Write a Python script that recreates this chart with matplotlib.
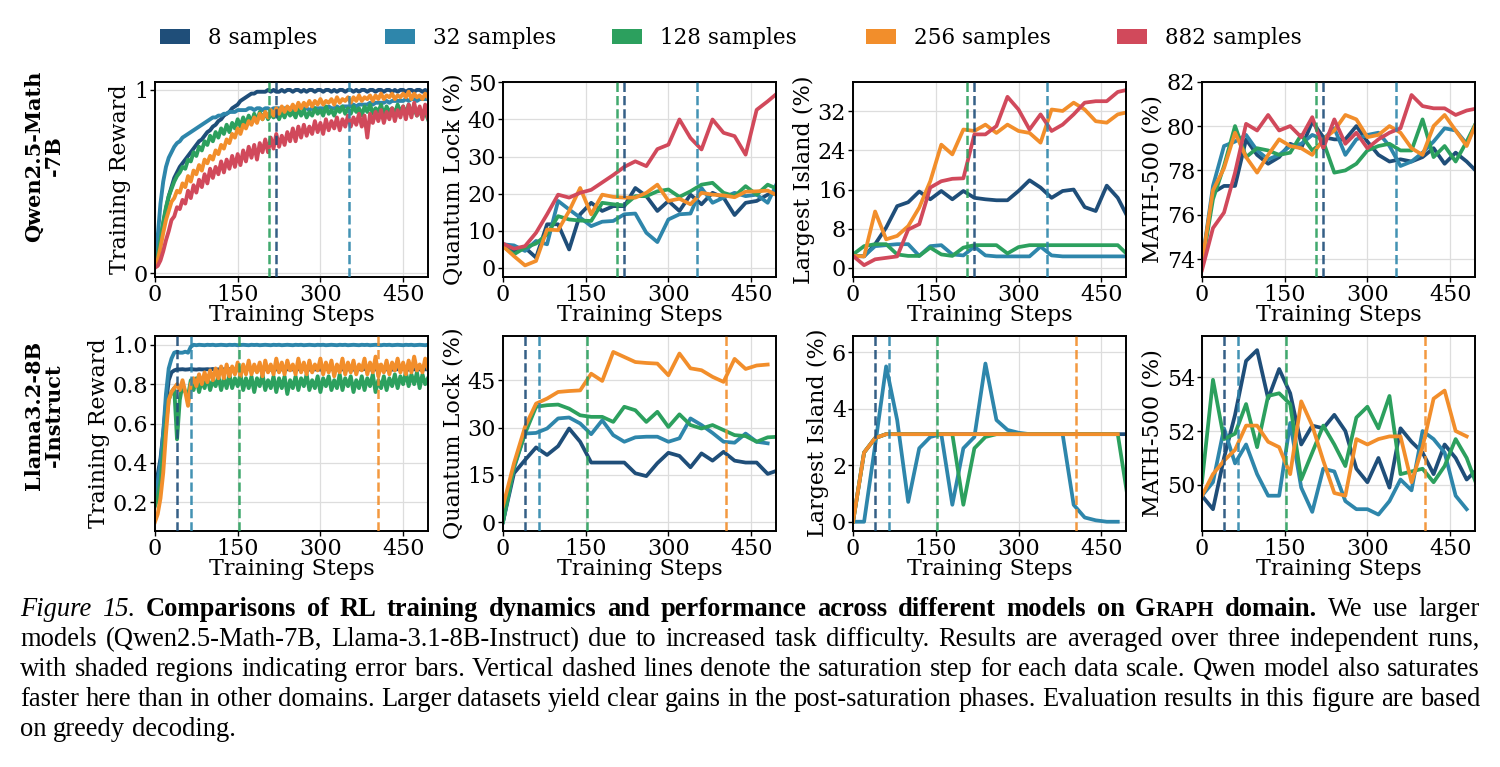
import matplotlib
matplotlib.use("Agg")
import matplotlib.pyplot as plt
from matplotlib.patches import Patch

# ---------------- data ----------------
labels = ["8 samples", "32 samples", "128 samples", "256 samples", "882 samples"]
colors = ["#1f4e79", "#2e86ab", "#2ca05e", "#f28e2b", "#d1495b"]

train_steps = list(range(0, 500, 5))
eval_steps = list(range(0, 501, 20))

# Qwen2.5-Math-7B training reward
q_tr_8 = [0.05, 0.10, 0.18, 0.27, 0.35, 0.42, 0.47, 0.52, 0.55, 0.58,
          0.60, 0.62, 0.64, 0.66, 0.68, 0.70, 0.72, 0.73, 0.75, 0.77,
          0.78, 0.80, 0.81, 0.83, 0.84, 0.86, 0.87, 0.88, 0.90, 0.91,
          0.92, 0.94, 0.95, 0.96, 0.97, 0.98, 0.98, 0.99, 0.99, 0.99,
          0.99, 1.00, 0.99, 1.00, 0.99, 0.99, 1.00, 0.99, 1.00, 1.00,
          0.99, 1.00, 1.00, 0.99, 1.00, 0.99, 1.00, 1.00, 0.99, 1.00,
          1.00, 0.99, 1.00, 1.00, 0.99, 1.00, 0.99, 1.00, 1.00, 0.99,
          1.00, 1.00, 0.99, 1.00, 0.99, 1.00, 1.00, 0.99, 1.00, 1.00,
          0.99, 1.00, 1.00, 0.99, 1.00, 1.00, 0.99, 1.00, 0.99, 1.00,
          1.00, 0.99, 1.00, 1.00, 0.99, 1.00, 1.00, 0.99, 1.00, 0.99]
q_tr_32 = [0.06, 0.20, 0.38, 0.50, 0.58, 0.63, 0.66, 0.69, 0.71, 0.72,
           0.74, 0.75, 0.76, 0.77, 0.78, 0.79, 0.80, 0.81, 0.82, 0.83,
           0.84, 0.85, 0.85, 0.86, 0.86, 0.87, 0.87, 0.88, 0.88, 0.88,
           0.89, 0.89, 0.89, 0.89, 0.90, 0.90, 0.89, 0.90, 0.90, 0.89,
           0.90, 0.90, 0.89, 0.90, 0.90, 0.90, 0.89, 0.90, 0.90, 0.90,
           0.90, 0.89, 0.90, 0.90, 0.90, 0.90, 0.89, 0.90, 0.90, 0.90,
           0.90, 0.90, 0.90, 0.91, 0.90, 0.90, 0.91, 0.90, 0.91, 0.91,
           0.91, 0.91, 0.92, 0.91, 0.92, 0.92, 0.92, 0.92, 0.93, 0.92,
           0.93, 0.93, 0.93, 0.93, 0.94, 0.93, 0.94, 0.94, 0.94, 0.94,
           0.94, 0.95, 0.94, 0.95, 0.95, 0.94, 0.95, 0.95, 0.95, 0.95]
q_tr_128 = [0.05, 0.09, 0.18, 0.28, 0.36, 0.42, 0.46, 0.50, 0.53, 0.55,
            0.58, 0.57, 0.62, 0.61, 0.66, 0.64, 0.69, 0.67, 0.72, 0.70,
            0.75, 0.72, 0.77, 0.74, 0.79, 0.76, 0.81, 0.77, 0.82, 0.79,
            0.84, 0.80, 0.85, 0.81, 0.86, 0.82, 0.87, 0.83, 0.88, 0.84,
            0.88, 0.84, 0.87, 0.85, 0.89, 0.84, 0.88, 0.85, 0.89, 0.86,
            0.88, 0.85, 0.90, 0.86, 0.89, 0.85, 0.88, 0.86, 0.90, 0.87,
            0.89, 0.86, 0.91, 0.87, 0.89, 0.86, 0.90, 0.88, 0.91, 0.87,
            0.90, 0.87, 0.91, 0.88, 0.90, 0.86, 0.91, 0.88, 0.92, 0.87,
            0.90, 0.88, 0.92, 0.86, 0.91, 0.88, 0.90, 0.87, 0.92, 0.88,
            0.91, 0.87, 0.92, 0.88, 0.90, 0.86, 0.89, 0.85, 0.88, 0.84]
q_tr_256 = [0.04, 0.07, 0.14, 0.22, 0.29, 0.34, 0.39, 0.41, 0.45, 0.44,
            0.49, 0.47, 0.53, 0.50, 0.56, 0.54, 0.59, 0.56, 0.62, 0.60,
            0.64, 0.62, 0.67, 0.65, 0.70, 0.68, 0.73, 0.71, 0.76, 0.74,
            0.79, 0.76, 0.81, 0.79, 0.83, 0.81, 0.85, 0.82, 0.87, 0.84,
            0.88, 0.85, 0.89, 0.86, 0.90, 0.87, 0.91, 0.88, 0.91, 0.89,
            0.92, 0.89, 0.93, 0.90, 0.93, 0.91, 0.94, 0.91, 0.94, 0.92,
            0.95, 0.92, 0.94, 0.93, 0.95, 0.92, 0.96, 0.93, 0.95, 0.94,
            0.96, 0.93, 0.96, 0.94, 0.97, 0.94, 0.96, 0.95, 0.97, 0.94,
            0.97, 0.95, 0.98, 0.95, 0.97, 0.96, 0.98, 0.95, 0.97, 0.96,
            0.98, 0.96, 0.99, 0.95, 0.98, 0.96, 0.97, 0.95, 0.98, 0.96]
q_tr_882 = [0.03, 0.04, 0.07, 0.12, 0.18, 0.23, 0.29, 0.31, 0.36, 0.35,
            0.40, 0.38, 0.45, 0.41, 0.48, 0.44, 0.51, 0.47, 0.54, 0.49,
            0.57, 0.52, 0.58, 0.54, 0.61, 0.55, 0.62, 0.57, 0.64, 0.58,
            0.65, 0.59, 0.67, 0.61, 0.69, 0.63, 0.70, 0.62, 0.71, 0.66,
            0.73, 0.66, 0.74, 0.68, 0.76, 0.69, 0.75, 0.70, 0.77, 0.72,
            0.79, 0.72, 0.80, 0.74, 0.81, 0.75, 0.80, 0.76, 0.83, 0.77,
            0.82, 0.76, 0.84, 0.78, 0.83, 0.79, 0.85, 0.78, 0.84, 0.80,
            0.86, 0.80, 0.85, 0.81, 0.87, 0.80, 0.86, 0.74, 0.87, 0.82,
            0.88, 0.83, 0.89, 0.82, 0.88, 0.84, 0.90, 0.83, 0.89, 0.85,
            0.91, 0.84, 0.92, 0.85, 0.93, 0.86, 0.91, 0.84, 0.92, 0.85]

# Qwen2.5-Math-7B evaluation
q_ql_8 = [5.8, 4.5, 5.4, 2.7, 11.7, 11.7, 4.9, 14.4, 17.5, 15.3, 16.6, 16.6, 21.5,
          19.3, 15.3, 18.0, 15.3, 19.7, 17.1, 20.2, 18.9, 14.2, 17.5, 18.0, 19.7, 20.2]
q_ql_32 = [6.3, 6.0, 4.5, 7.2, 6.3, 18.0, 15.7, 13.5, 11.2, 12.4, 12.6, 14.4, 14.6,
           9.4, 6.9, 13.0, 14.4, 14.6, 21.5, 17.5, 18.9, 20.2, 19.3, 19.7, 17.5, 23.8]
q_ql_128 = [5.8, 3.6, 5.4, 6.5, 9.0, 13.9, 13.0, 12.7, 12.6, 17.5, 17.1, 16.8, 19.3,
            19.3, 20.6, 21.1, 19.1, 20.6, 22.4, 22.9, 20.2, 19.3, 22.0, 19.7, 22.4, 21.1]
q_ql_256 = [5.8, 3.1, 0.6, 1.8, 10.3, 10.1, 15.3, 21.5, 14.4, 19.7, 19.1, 18.9, 18.9,
            20.2, 22.4, 18.0, 18.6, 17.1, 20.2, 19.7, 19.5, 19.0, 20.5, 20.6, 20.8, 19.3]
q_ql_882 = [6.5, 5.1, 5.8, 9.4, 14.4, 19.7, 18.9, 20.2, 21.0, 23.0, 25.0, 27.2, 28.7,
            27.4, 32.0, 33.2, 40.0, 35.0, 31.9, 40.0, 36.4, 35.5, 30.5, 42.6, 44.9, 47.4]

q_li_8 = [2.4, 2.3, 4.8, 8.2, 12.6, 13.4, 15.6, 14.0, 15.7, 14.0, 15.7, 14.3, 14.0,
          13.8, 13.8, 15.7, 17.9, 16.4, 14.3, 15.7, 16.0, 12.4, 11.6, 16.8, 14.3, 9.9]
q_li_32 = [2.4, 2.4, 4.4, 4.6, 4.8, 4.8, 2.4, 4.4, 4.6, 2.7, 2.5, 4.3, 2.5,
           2.3, 2.3, 2.3, 2.3, 4.3, 2.5, 2.3, 2.3, 2.3, 2.3, 2.3, 2.3, 2.3]
q_li_128 = [2.7, 4.4, 4.8, 4.8, 2.7, 2.4, 2.4, 4.1, 2.7, 2.4, 4.1, 4.6, 4.6,
            4.6, 2.9, 4.2, 4.6, 4.6, 4.6, 4.6, 4.6, 4.6, 4.6, 4.6, 4.6, 2.4]
q_li_256 = [2.4, 2.3, 11.5, 5.8, 6.5, 8.5, 12.3, 17.7, 25.2, 23.2, 28.3, 28.0, 29.3,
            27.6, 29.3, 28.0, 27.6, 25.6, 32.4, 32.1, 33.8, 32.4, 30.0, 29.7, 31.4, 31.9]
q_li_882 = [2.4, 0.5, 1.7, 2.0, 2.3, 7.8, 8.9, 16.4, 17.7, 18.2, 18.3, 27.3, 27.3,
            29.0, 35.0, 32.4, 28.3, 31.4, 28.0, 29.3, 31.4, 33.8, 34.1, 34.1, 36.0, 36.5]

q_m_8 = [73.8, 77.0, 77.3, 77.3, 79.4, 78.7, 78.3, 78.6, 79.2, 79.0, 80.2, 79.5, 79.4,
         79.4, 80.0, 79.3, 78.7, 78.4, 78.5, 78.4, 78.6, 79.0, 78.3, 78.8, 78.4, 77.9]
q_m_32 = [73.8, 77.3, 79.1, 79.3, 79.6, 78.9, 78.5, 78.7, 79.1, 79.2, 79.6, 79.4, 79.9,
          78.7, 79.4, 79.6, 79.7, 79.1, 78.2, 78.4, 78.8, 79.3, 79.9, 79.8, 79.2, 80.3]
q_m_128 = [73.7, 76.7, 78.2, 80.0, 78.6, 79.0, 78.9, 78.7, 78.8, 79.6, 78.9, 79.3, 77.9,
           78.0, 78.3, 78.9, 79.1, 79.2, 78.9, 78.9, 80.3, 78.6, 79.1, 78.4, 79.3, 80.3]
q_m_256 = [73.8, 77.1, 78.1, 79.7, 78.6, 77.9, 78.7, 79.4, 79.1, 79.0, 78.7, 79.4, 79.8,
           80.5, 80.3, 79.5, 79.6, 80.0, 79.7, 79.0, 78.7, 80.0, 80.5, 79.8, 79.1, 80.3]
q_m_882 = [73.5, 75.4, 76.1, 77.9, 80.1, 79.8, 80.5, 79.8, 80.0, 79.5, 80.4, 79.0, 80.3,
           79.2, 79.7, 79.0, 79.4, 79.7, 79.9, 81.4, 80.9, 80.8, 80.8, 80.5, 80.7, 80.8]

# Llama3.2-8B-Instruct training reward
l_tr_8 = [0.30, 0.34, 0.42, 0.55, 0.70, 0.82, 0.86, 0.870, 0.875, 0.875,
          0.876, 0.874, 0.875, 0.877, 0.875, 0.874, 0.876, 0.875, 0.875, 0.876,
          0.875, 0.877, 0.874, 0.875, 0.876, 0.875, 0.874, 0.876, 0.877, 0.875,
          0.874, 0.875, 0.876, 0.875, 0.877, 0.874, 0.875, 0.876, 0.875, 0.874,
          0.876, 0.875, 0.874, 0.877, 0.875, 0.876, 0.875, 0.874, 0.876, 0.875,
          0.875, 0.874, 0.876, 0.875, 0.877, 0.875, 0.874, 0.876, 0.875, 0.876,
          0.874, 0.875, 0.877, 0.875, 0.876, 0.874, 0.875, 0.876, 0.875, 0.877,
          0.875, 0.876, 0.874, 0.875, 0.876, 0.875, 0.877, 0.874, 0.875, 0.876,
          0.875, 0.874, 0.876, 0.877, 0.875, 0.876, 0.874, 0.875, 0.876, 0.875,
          0.877, 0.875, 0.874, 0.876, 0.875, 0.876, 0.875, 0.874, 0.876, 0.875]
l_tr_32 = [0.22, 0.30, 0.40, 0.55, 0.75, 0.88, 0.93, 0.96, 0.965, 0.96,
           0.96, 0.965, 0.96, 0.99, 1.00, 0.998, 1.00, 0.999, 0.998, 1.00,
           0.999, 1.00, 0.998, 0.999, 1.00, 0.999, 0.998, 1.00, 0.999, 1.00,
           0.998, 0.999, 1.00, 0.999, 0.998, 1.00, 0.999, 1.00, 0.998, 0.999,
           1.00, 0.999, 0.998, 1.00, 0.999, 1.00, 0.998, 0.999, 1.00, 0.999,
           0.998, 1.00, 0.999, 1.00, 0.998, 0.999, 1.00, 0.999, 0.998, 1.00,
           0.999, 1.00, 0.998, 0.999, 1.00, 0.999, 0.998, 1.00, 0.999, 1.00,
           0.998, 0.999, 1.00, 0.999, 0.998, 1.00, 0.999, 1.00, 0.998, 0.999,
           1.00, 0.999, 0.998, 1.00, 0.999, 1.00, 0.998, 0.999, 1.00, 0.999,
           0.998, 1.00, 0.999, 1.00, 0.998, 0.999, 1.00, 0.999, 0.998, 1.00]
l_tr_128 = [0.18, 0.22, 0.30, 0.45, 0.60, 0.72, 0.76, 0.78, 0.52, 0.72,
            0.80, 0.76, 0.74, 0.82, 0.77, 0.83, 0.76, 0.82, 0.78, 0.84,
            0.77, 0.82, 0.79, 0.84, 0.77, 0.83, 0.78, 0.85, 0.78, 0.83,
            0.79, 0.85, 0.77, 0.83, 0.78, 0.84, 0.76, 0.83, 0.79, 0.85,
            0.77, 0.82, 0.78, 0.84, 0.76, 0.83, 0.78, 0.84, 0.75, 0.82,
            0.78, 0.84, 0.77, 0.83, 0.79, 0.85, 0.77, 0.82, 0.78, 0.84,
            0.76, 0.83, 0.79, 0.84, 0.77, 0.82, 0.78, 0.85, 0.77, 0.83,
            0.79, 0.84, 0.76, 0.82, 0.78, 0.84, 0.77, 0.83, 0.79, 0.85,
            0.76, 0.82, 0.78, 0.84, 0.77, 0.83, 0.79, 0.85, 0.78, 0.84,
            0.80, 0.86, 0.79, 0.85, 0.80, 0.86, 0.78, 0.85, 0.80, 0.83]
l_tr_256 = [0.10, 0.14, 0.22, 0.35, 0.55, 0.72, 0.76, 0.78, 0.80, 0.77,
            0.82, 0.76, 0.69, 0.80, 0.83, 0.79, 0.85, 0.80, 0.86, 0.81,
            0.87, 0.82, 0.88, 0.83, 0.89, 0.83, 0.90, 0.84, 0.89, 0.85,
            0.91, 0.84, 0.90, 0.85, 0.92, 0.85, 0.90, 0.86, 0.91, 0.84,
            0.92, 0.86, 0.90, 0.85, 0.93, 0.86, 0.91, 0.85, 0.92, 0.87,
            0.90, 0.85, 0.93, 0.86, 0.91, 0.85, 0.92, 0.86, 0.90, 0.87,
            0.93, 0.85, 0.91, 0.86, 0.92, 0.84, 0.90, 0.86, 0.93, 0.85,
            0.91, 0.86, 0.92, 0.85, 0.90, 0.87, 0.93, 0.85, 0.91, 0.86,
            0.94, 0.84, 0.90, 0.86, 0.92, 0.85, 0.91, 0.87, 0.93, 0.86,
            0.91, 0.85, 0.92, 0.86, 0.94, 0.87, 0.90, 0.86, 0.93, 0.88]

# Llama3.2-8B-Instruct evaluation (some runs stop at step 480)
l_ql_8 = [0.0, 15.5, 19.7, 23.7, 21.3, 24.1, 29.7, 25.5, 18.9, 18.9, 18.9, 18.9, 15.5,
          14.6, 18.7, 22.0, 21.0, 17.4, 21.8, 19.5, 22.3, 19.5, 18.9, 18.9, 15.3, 16.5]
l_ql_32 = [0.0, 17.1, 28.1, 28.3, 29.7, 32.9, 33.2, 31.3, 27.9, 32.3, 27.6, 25.5, 26.9,
           27.1, 27.1, 25.5, 26.6, 32.9, 30.8, 28.3, 25.5, 25.2, 28.1, 25.5, 25.0]
l_ql_128 = [0.0, 17.6, 28.1, 36.6, 37.1, 37.3, 36.0, 33.9, 33.4, 33.4, 31.8, 36.6, 35.5,
            31.8, 35.0, 30.2, 34.2, 30.8, 29.7, 30.8, 29.2, 27.6, 27.3, 25.5, 26.9, 27.1]
l_ql_256 = [5.0, 18.7, 30.2, 37.6, 39.2, 41.3, 41.6, 41.8, 47.1, 44.8, 54.0, 52.4, 50.8,
            50.5, 50.3, 46.6, 53.5, 48.8, 48.2, 46.1, 44.5, 51.8, 48.6, 49.7, 50.0]

l_li_8 = [0.0, 2.45, 2.96, 3.1, 3.1, 3.1, 3.1, 3.1, 3.1, 3.1, 3.1, 3.1, 3.1,
          3.1, 3.1, 3.1, 3.1, 3.1, 3.1, 3.1, 3.1, 3.1, 3.1, 3.1, 3.1, 3.1]
l_li_32 = [0.0, 0.0, 2.7, 5.5, 3.6, 0.7, 2.6, 3.0, 3.1, 0.6, 2.6, 3.0, 5.6,
           3.6, 3.25, 3.15, 3.1, 3.1, 3.1, 3.1, 0.6, 0.15, 0.05, 0.0, 0.0]
l_li_128 = [0.0, 2.45, 2.96, 3.1, 3.1, 3.1, 3.1, 3.1, 3.1, 3.1, 0.6, 2.6, 3.0,
            3.1, 3.1, 3.1, 3.1, 3.1, 3.1, 3.1, 3.1, 3.1, 3.1, 3.1, 3.1, 0.6]
l_li_256 = [0.0, 2.45, 2.96, 3.1, 3.1, 3.1, 3.1, 3.1, 3.1, 3.1, 3.1, 3.1, 3.1,
            3.1, 3.1, 3.1, 3.1, 3.1, 3.1, 3.1, 3.1, 3.1, 3.1, 3.1, 3.1]

l_m_8 = [49.6, 49.1, 51.0, 52.6, 54.6, 55.0, 53.2, 54.3, 53.4, 51.5, 52.2, 52.1, 52.6,
         52.0, 50.6, 50.1, 51.0, 49.9, 52.1, 51.6, 51.2, 50.4, 51.5, 51.0, 50.2, 50.6]
l_m_32 = [49.6, 50.1, 52.1, 50.8, 51.5, 50.4, 49.6, 49.6, 52.3, 49.9, 49.0, 50.6, 50.5,
          49.4, 49.1, 49.1, 48.9, 49.4, 50.2, 49.8, 52.0, 51.7, 51.2, 49.6, 49.1]
l_m_128 = [50.1, 53.9, 51.7, 51.9, 53.0, 51.4, 53.3, 53.4, 53.0, 50.2, 51.2, 52.2, 51.5,
           50.7, 52.5, 52.9, 52.1, 53.3, 50.4, 50.5, 50.6, 50.1, 50.7, 51.7, 51.0, 49.9]
l_m_256 = [49.6, 50.4, 50.9, 51.3, 52.2, 52.2, 51.6, 51.4, 50.4, 53.1, 52.2, 50.9, 49.7,
           49.6, 51.7, 51.5, 51.7, 51.8, 51.8, 50.1, 51.4, 53.2, 53.5, 52.0, 51.8]

q_sat = [220, 352, 206, None, None]
l_sat = [40, 66, 152, 405, None]

caption = [
    [[("Figure", "it")], [("15.", "it")]]
    + [[(w, "bf")] for w in "Comparisons of RL training dynamics and performance across different models on".split()]
    + [[("G", "bf"), ("RAPH", "bfsc")], [("domain.", "bf")]]
    + [[(w, "rm")] for w in "We use larger".split()],
    [[(w, "rm")] for w in "models (Qwen2.5-Math-7B, Llama-3.1-8B-Instruct) due to increased task difficulty. Results are averaged over three independent runs,".split()],
    [[(w, "rm")] for w in "with shaded regions indicating error bars. Vertical dashed lines denote the saturation step for each data scale. Qwen model also saturates".split()],
    [[(w, "rm")] for w in "faster here than in other domains. Larger datasets yield clear gains in the post-saturation phases. Evaluation results in this figure are based".split()],
    [[(w, "rm")] for w in "on greedy decoding.".split()],
]

# ---------------- figure ----------------
plt.rcParams["font.family"] = "DejaVu Serif"
fig = plt.figure(figsize=(15, 7.67), dpi=100)

lefts = [0.1033, 0.3353, 0.5687, 0.8013]
bottoms = [0.639, 0.308]
w, h = 0.182, 0.2545
fs = 16

panels = [
    [(train_steps, [q_tr_8, q_tr_32, q_tr_128, q_tr_256, q_tr_882], "Training Reward", (-0.02, 1.045), [0, 1]),
     (eval_steps, [q_ql_8, q_ql_32, q_ql_128, q_ql_256, q_ql_882], "Quantum Lock (%)", (-2.5, 50.2), [0, 10, 20, 30, 40, 50]),
     (eval_steps, [q_li_8, q_li_32, q_li_128, q_li_256, q_li_882], "Largest Island (%)", (-1.9, 38.1), [0, 8, 16, 24, 32]),
     (eval_steps, [q_m_8, q_m_32, q_m_128, q_m_256, q_m_882], "MATH-500 (%)", (73.2, 82.0), [74, 76, 78, 80, 82])],
    [(train_steps, [l_tr_8, l_tr_32, l_tr_128, l_tr_256], "Training Reward", (0.055, 1.047), [0.2, 0.4, 0.6, 0.8, 1.0]),
     (eval_steps, [l_ql_8, l_ql_32, l_ql_128, l_ql_256], "Quantum Lock (%)", (-2.75, 59.2), [0, 15, 30, 45]),
     (eval_steps, [l_li_8, l_li_32, l_li_128, l_li_256], "Largest Island (%)", (-0.32, 6.59), [0, 2, 4, 6]),
     (eval_steps, [l_m_8, l_m_32, l_m_128, l_m_256], "MATH-500 (%)", (48.3, 55.54), [50, 52, 54])],
]
sats = [q_sat, l_sat]

for r in range(2):
    for c in range(4):
        xs, series, ylab, ylim, yticks = panels[r][c]
        ax = fig.add_axes([lefts[c], bottoms[r], w, h])
        lw = 2.8 if c == 0 else 2.7
        for i, ys in enumerate(series):
            ax.plot(xs[:len(ys)], ys, color=colors[i], lw=lw, zorder=2 + i * 0.1)
        for i, s in enumerate(sats[r]):
            if s is not None:
                ax.axvline(s, color=colors[i], ls="--", lw=1.8, alpha=0.9, zorder=5)
        ax.set_xlim(0, 495)
        ax.set_ylim(*ylim)
        ax.set_xticks([0, 150, 300, 450])
        ax.set_yticks(yticks)
        if r == 0 and c == 0:
            ax.set_yticklabels(["0", "1"])
        ax.grid(True, color="#dddddd", lw=0.9)
        ax.set_axisbelow(True)
        ax.tick_params(labelsize=fs, length=3.5, width=1, pad=1.5)
        ax.set_xlabel("Training Steps", fontsize=fs, labelpad=-1)
        ax.set_ylabel(ylab, fontsize=fs, labelpad=2)
        for sp in ax.spines.values():
            sp.set_linewidth(1.4)
            sp.set_color("black")

# row labels
fig.text(44 / 1500, 1 - 156 / 767, "Qwen2.5-Math\n-7B", rotation=90, ha="center", va="center",
         fontsize=15, fontweight="bold", multialignment="center", linespacing=1.0)
fig.text(44 / 1500, 1 - 415 / 767, "Llama3.2-8B\n-Instruct", rotation=90, ha="center", va="center",
         fontsize=15, fontweight="bold", multialignment="center", linespacing=1.0)

# legend, one entry per slot
legend_x = [160, 385, 612, 866, 1117]
for i, lab in enumerate(labels):
    fig.legend(handles=[Patch(facecolor=colors[i], edgecolor="none")], labels=[lab],
               loc="center left", bbox_to_anchor=(legend_x[i] / 1500, 1 - 38 / 767),
               frameon=False, fontsize=15.5, handlelength=1.4, handletextpad=0.85,
               borderpad=0, borderaxespad=0)

# caption, justified word by word
fig.canvas.draw()
rend = fig.canvas.get_renderer()
cap_fs = 19.1
styles = {"rm": {}, "it": {"style": "italic"}, "bf": {"weight": "bold"},
          "bfsc": {"weight": "bold", "size": cap_fs * 0.78}}
x0, x1 = 20, 1480
for li, line in enumerate(caption):
    y = 1 - (616 + 30 * li) / 767
    words = []
    for word in line:
        parts = []
        for txt, st in word:
            kw = dict(styles[st])
            size = kw.pop("size", cap_fs)
            t = fig.text(0, y, txt, fontsize=size, family="Liberation Serif",
                         va="baseline", ha="left", **kw)
            parts.append((t, t.get_window_extent(rend).width))
        words.append(parts)
    total = sum(wd for parts in words for _, wd in parts)
    if li < len(caption) - 1:
        gap = (x1 - x0 - total) / (len(words) - 1)
    else:
        gap = cap_fs * 100 / 72 * 0.25
    x = x0
    for parts in words:
        for t, wd in parts:
            t.set_x(x / 1500)
            x += wd
        x += gap

fig.savefig("out.png", dpi=100)
